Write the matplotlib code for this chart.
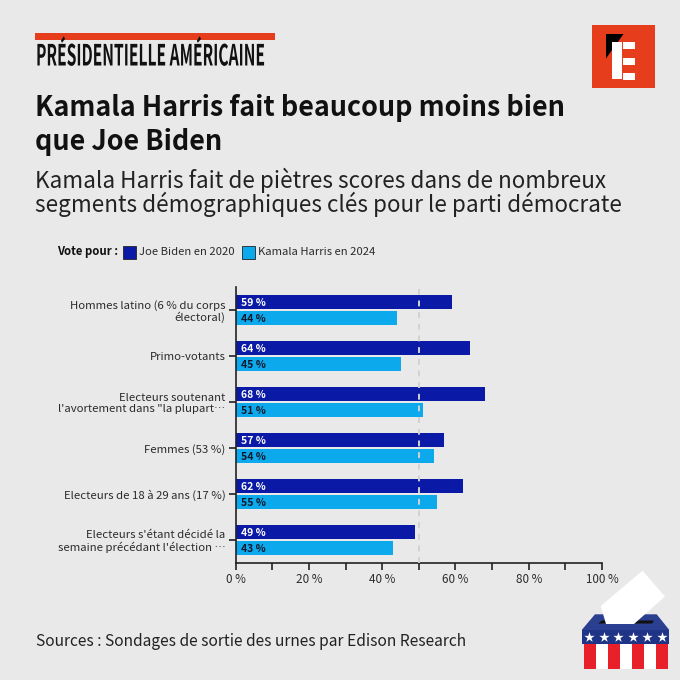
"""Presidentielle americaine: vote Biden 2020 / Harris 2024 par segment."""
import numpy as np
import matplotlib
matplotlib.use('Agg')
import matplotlib.pyplot as plt
import matplotlib.patheffects as pe
from matplotlib.patches import Polygon, Rectangle
from matplotlib.transforms import Affine2D

plt.rcParams['font.family'] = ['Noto Sans CJK JP', 'DejaVu Sans']

# Donnees
segments = ['Hommes latino (6 % du corps\nélectoral)',
            'Primo-votants',
            'Electeurs soutenant\nl\'avortement dans "la plupart…',
            'Femmes (53 %)',
            'Electeurs de 18 à 29 ans (17 %)',
            'Electeurs s\'étant décidé la\nsemaine précédant l\'élection …']
biden = [59, 64, 68, 57, 62, 49]
harris = [44, 45, 51, 54, 55, 43]
xticks_major = [0, 20, 40, 60, 80, 100]
xticks_minor = [10, 30, 50, 70, 90]

BG = '#E9E9E9'
RED = '#E63D1C'
DARK = '#0A1AA6'
LIGHT = '#0CA9EC'
TXT = '#2B2B2B'


class Squeeze(pe.AbstractPathEffect):
    """Resserre le texte horizontalement (pas de police condensee installee)."""
    def __init__(self, x0, sx):
        super().__init__()
        self.x0 = x0
        self.sx = sx

    def draw_path(self, renderer, gc, tpath, affine, rgbFace=None):
        t = Affine2D().translate(-self.x0, 0).scale(self.sx, 1).translate(self.x0, 0)
        renderer.draw_path(gc, tpath, affine + t, rgbFace)


fig = plt.figure(figsize=(6.8, 6.8), dpi=100, facecolor=BG)

# Calque en pixels pour les titres et les decors
deco = fig.add_axes([0, 0, 1, 1])
deco.set_xlim(0, 680)
deco.set_ylim(680, 0)
deco.axis('off')

# Graphique
ax = fig.add_axes([235.7/680, (680-563)/680, (602-235.7)/680, (563-287)/680])
ax.set_facecolor('none')
y = np.arange(len(segments))
ax.barh(y-0.17, biden, height=0.3, color=DARK, zorder=2)
ax.barh(y+0.17, harris, height=0.3, color=LIGHT, zorder=2)
for i in range(len(segments)):
    ax.text(1.5, y[i]-0.17, f'{biden[i]} %', color='white', fontsize=7.5,
            fontweight='bold', va='center_baseline', zorder=4)
    ax.text(1.5, y[i]+0.17, f'{harris[i]} %', color='#10182B', fontsize=7.5,
            fontweight='bold', va='center_baseline', zorder=4)
ax.axvline(50, color='#D2D2D2', linestyle=(0, (3, 3)), linewidth=1.4, zorder=3)

ax.set_xlim(0, 100)
ax.set_ylim(5.5, -0.5)
ax.set_yticks(y)
ax.set_yticklabels(segments, fontsize=8.2, color=TXT, linespacing=1.1)
ax.set_xticks(xticks_major)
ax.set_xticklabels([f'{v} %' for v in xticks_major], fontsize=8.4, color=TXT)
ax.set_xticks(xticks_minor, minor=True)
ax.tick_params(axis='x', which='both', length=5, width=1.2, color='#222222', pad=2.5)
ax.tick_params(axis='y', length=5, width=1.2, color='#222222', pad=2.5)
for side in ['top', 'right']:
    ax.spines[side].set_visible(False)
for side in ['left', 'bottom']:
    ax.spines[side].set_linewidth(1.2)
    ax.spines[side].set_color('#222222')

# Bandeau et titres
deco.add_patch(Rectangle((34.5, 32.5), 240, 7, color=RED, lw=0))
deco.text(36, 65.5, 'PRÉSIDENTIELLE AMÉRICAINE', fontweight='bold', fontsize=21,
          color='#111111', va='baseline', path_effects=[Squeeze(36, 0.535)])
deco.text(35, 108, 'Kamala Harris fait beaucoup moins bien', fontsize=19.4,
          fontweight='bold', color='#111111', va='center')
deco.text(35, 142, 'que Joe Biden', fontsize=19.4, fontweight='bold',
          color='#111111', va='center')
deco.text(35, 180, 'Kamala Harris fait de piètres scores dans de nombreux',
          fontsize=16.2, color='#222222', va='center')
deco.text(35, 204.5, 'segments démographiques clés pour le parti démocrate',
          fontsize=16.2, color='#222222', va='center')

# Legende
deco.text(57, 251.5, 'Vote pour :', fontsize=8.2, fontweight='bold', color='#111111', va='center')
deco.add_patch(Rectangle((123, 246), 12.5, 12.5, fc=DARK, ec='#222222', lw=0.6))
deco.text(139, 252, 'Joe Biden en 2020', fontsize=8.15, color=TXT, va='center')
deco.add_patch(Rectangle((242, 246), 12.5, 12.5, fc=LIGHT, ec='#222222', lw=0.6))
deco.text(258, 252, 'Kamala Harris en 2024', fontsize=8.15, color=TXT, va='center')

# Source
deco.text(36, 642, 'Sources : Sondages de sortie des urnes par Edison Research',
          fontsize=11.2, color='#222222', va='center')

# Logo
deco.add_patch(Rectangle((592, 25), 63, 63, color=RED, lw=0))
deco.add_patch(Polygon([(606, 34), (623.5, 34), (606, 58.5)], color='black', lw=0))
deco.add_patch(Rectangle((612.3, 42.3), 9.4, 37, color='white', lw=0))
for top in [42.3, 57.7, 72.7]:
    deco.add_patch(Rectangle((623.3, top), 11.4, 6.8, color='white', lw=0))

# Urne
deco.add_patch(Polygon([(595, 614.3), (656.7, 614.3), (669.3, 630), (581.7, 630)],
                       color='#2A3F8F', lw=0))
deco.add_patch(Rectangle((581.7, 630), 87.6, 13.5, color='#1F3487', lw=0))
deco.add_patch(Polygon([(598, 623.5), (652, 623.5), (654, 620.5), (602, 620.5)],
                       color='#111111', lw=0))
deco.add_patch(Rectangle((584, 643.5), 83.5, 25, color='white', lw=0))
for left in [584, 608, 631.7, 655.7]:
    deco.add_patch(Rectangle((left, 643.5), 12, 25, color='#E8202A', lw=0))
deco.add_patch(Polygon([(642.5, 570.7), (665, 596.5), (634, 624), (606, 624), (600.7, 606)],
                       color='white', lw=0))
deco.scatter([589, 603.7, 618.3, 632.7, 647.3, 662], [637.3]*6, marker='*', s=60,
             color='white', linewidths=0)

fig.savefig('out.png', dpi=100, facecolor=BG)
